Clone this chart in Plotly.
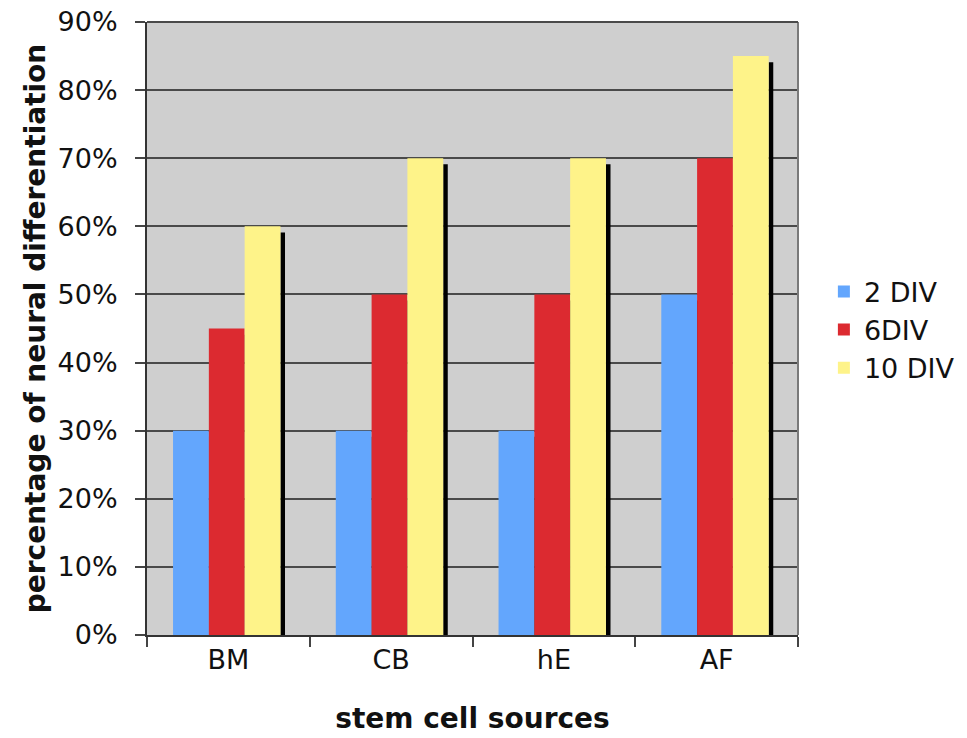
import plotly.graph_objects as go

categories = ["BM", "CB", "hE", "AF"]
series_names = ["2 DIV", "6DIV", "10 DIV"]
div2 = [30, 30, 30, 50]
div6 = [45, 50, 50, 70]
div10 = [60, 70, 70, 85]
y_ticks = [0, 10, 20, 30, 40, 50, 60, 70, 80, 90]

colors = ["#63a6fd", "#dc2a30", "#fef389"]
values = [div2, div6, div10]
bar_w = 0.22
offsets = [-0.34, -0.12, 0.10]

FONT = "DejaVu Sans"
fig = go.Figure()

# drop shadows (Excel style), drawn behind bars
for vals, off in zip(values, offsets):
    fig.add_trace(go.Bar(
        x=categories, y=[v - 0.9 for v in vals], width=0.028, offset=off + bar_w,
        marker=dict(color="#000000", line=dict(width=0)), showlegend=False, hoverinfo="skip"))

for name, vals, col, off in zip(series_names, values, colors, offsets):
    fig.add_trace(go.Bar(
        x=categories, y=vals, name=name, width=bar_w, offset=off,
        marker=dict(color=col, line=dict(width=0))))

fig.update_layout(
    width=967, height=738,
    barmode="overlay",
    plot_bgcolor="#cfcfcf", paper_bgcolor="#ffffff",
    margin=dict(l=147, r=169, t=22, b=103, autoexpand=False),
    font=dict(family=FONT, size=27, color="#111111"),
    legend=dict(xref="container", yref="container", x=0.852, y=0.553,
                xanchor="left", yanchor="middle", font=dict(size=27),
                bgcolor="rgba(0,0,0,0)", tracegroupgap=0),
    showlegend=True,
)
fig.update_xaxes(
    type="category", range=[-0.5, 3.5],
    showline=True, linecolor="#333333", linewidth=2,
    ticks="outside", tickson="boundaries", ticklen=10, tickcolor="#444444", tickwidth=1.5,
    showgrid=False,
    tickfont=dict(size=27, family=FONT),
    title=dict(text="<b>stem cell sources</b>", font=dict(size=28, family=FONT), standoff=34),
)
fig.update_yaxes(
    range=[0, 90], tickvals=y_ticks, ticktext=[f"{t}%" for t in y_ticks],
    showline=True, linecolor="#333333", linewidth=2,
    ticks="outside", ticklen=10, tickcolor="#444444", tickwidth=1.5,
    ticklabelstandoff=12,
    showgrid=True, gridcolor="#4a4a4a", gridwidth=1.5, zeroline=False,
    tickfont=dict(size=27, family=FONT),
    title=dict(text="<b>percentage of neural differentiation</b>", font=dict(size=28, family=FONT), standoff=4),
)
# right and top border of the plot area
fig.add_shape(type="line", xref="x domain", yref="y domain", x0=1, x1=1, y0=0, y1=1,
              line=dict(color="#7a7a7a", width=2))
fig.add_shape(type="line", xref="x domain", yref="y domain", x0=0, x1=1, y0=1, y1=1,
              line=dict(color="#4a4a4a", width=2))

fig.write_html("out.html")
